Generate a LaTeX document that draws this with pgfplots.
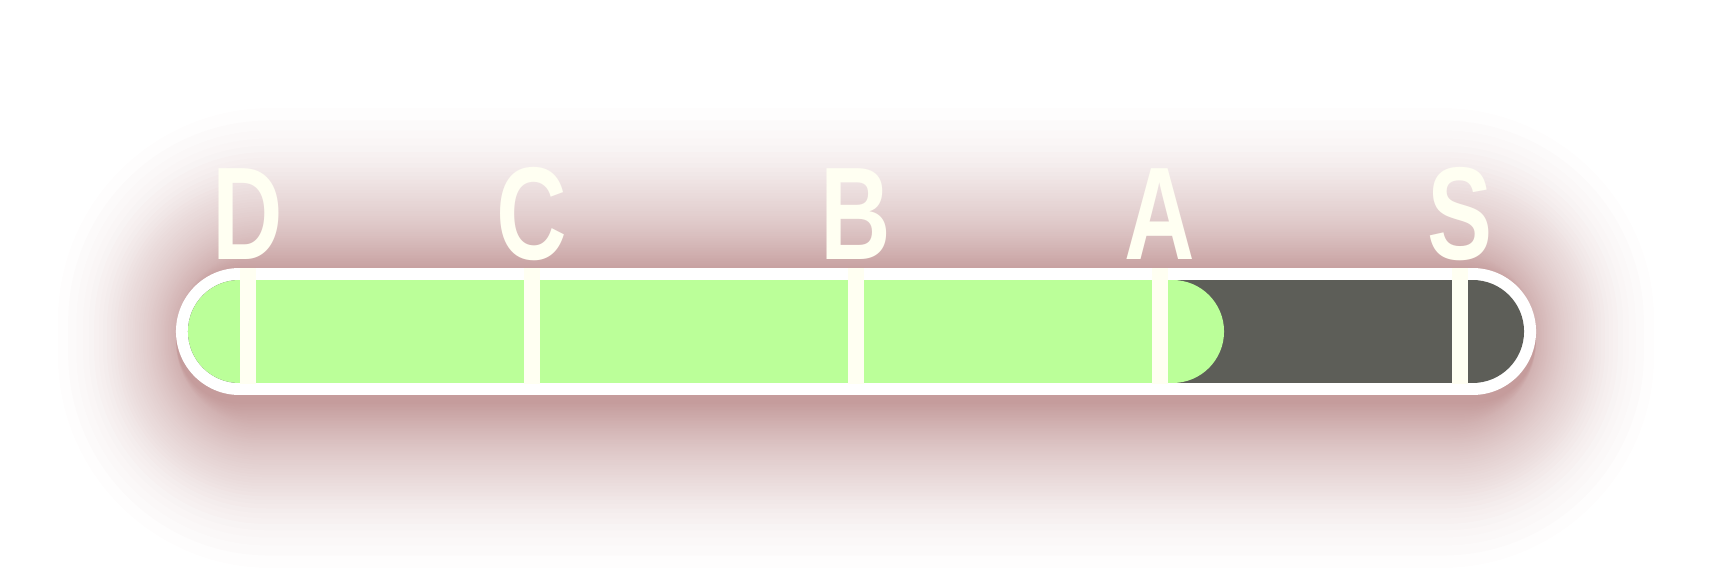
\documentclass[border=0pt]{standalone}
\usepackage{pgfplots}
\pgfplotsset{compat=1.18}
\usepackage{fontspec}
\newfontfamily\labelfont[FakeStretch=0.74]{Liberation Sans}
\definecolor{glow}{RGB}{140,60,60}
\definecolor{prog}{RGB}{187,255,153}
\definecolor{track}{RGB}{93,94,88}
\definecolor{ivory}{RGB}{255,255,242}
\tikzset{lbl/.style={anchor=base, inner sep=0pt, text=ivory, font=\labelfont\bfseries\fontsize{66}{66}\selectfont}}
\begin{document}
\begin{tikzpicture}
% soft glow behind the bar (layered, gaussian-like falloff)
\foreach \i in {3,...,59}{
  \pgfmathsetmacro\p{(\i+0.5)/120}
  \pgfmathsetmacro\z{ln((1-\p)/\p)/1.702}
  \pgfmathsetmacro\dv{80*\z}
  \pgfmathsetmacro\dh{max(0,66*\z-18)}
  \pgfmathsetmacro\xa{(176-\dh)*0.5}
  \pgfmathsetmacro\xb{(1536+\dh)*0.5}
  \pgfmathsetmacro\ya{(586-(403+\dv))*0.5}
  \pgfmathsetmacro\yb{(586-(273-\dv))*0.5}
  \pgfmathsetmacro\r{min(0.5*(64+0.9*\dv),(\yb-\ya)/2-0.3)}
  \fill[glow, fill opacity=0.0128, rounded corners=\r pt] (\xa pt,\ya pt) rectangle (\xb pt,\yb pt);
}
\begin{axis}[
  at={(0,0)}, anchor=south west,
  width=856pt, height=293pt, scale only axis,
  xmin=-19.42, xmax=119.42, ymin=0, ymax=586,
  axis lines=none, ticks=none, clip=false,
]
% outer white frame
\addplot[white, line width=63.5pt, line cap=round] coordinates {(0,254.5) (100,254.5)};
% dark track
\addplot[track, line width=51.5pt, line cap=round] coordinates {(0,254.5) (100,254.5)};
% progress
\addplot[prog, line width=51.5pt, line cap=round] coordinates {(0,254.5) (75.67,254.5)};
% grade markers
\addplot[ivory, line width=8pt, line cap=butt, unbounded coords=jump] coordinates {
  (0.69,202) (0.69,318) (0.69,nan)
  (23.72,202) (23.72,318) (23.72,nan)
  (50.0,202) (50.0,318) (50.0,nan)
  (74.65,202) (74.65,318) (74.65,nan)
  (98.95,202) (98.95,318)
};
\node[lbl] at (axis cs:0.69,327) {D};
\node[lbl] at (axis cs:23.72,327) {C};
\node[lbl] at (axis cs:50.0,327) {B};
\node[lbl] at (axis cs:74.65,327) {A};
\node[lbl] at (axis cs:98.95,327) {S};
\end{axis}
\pgfresetboundingbox
\useasboundingbox (0,0) rectangle (856pt,293pt);
\end{tikzpicture}
\end{document}
